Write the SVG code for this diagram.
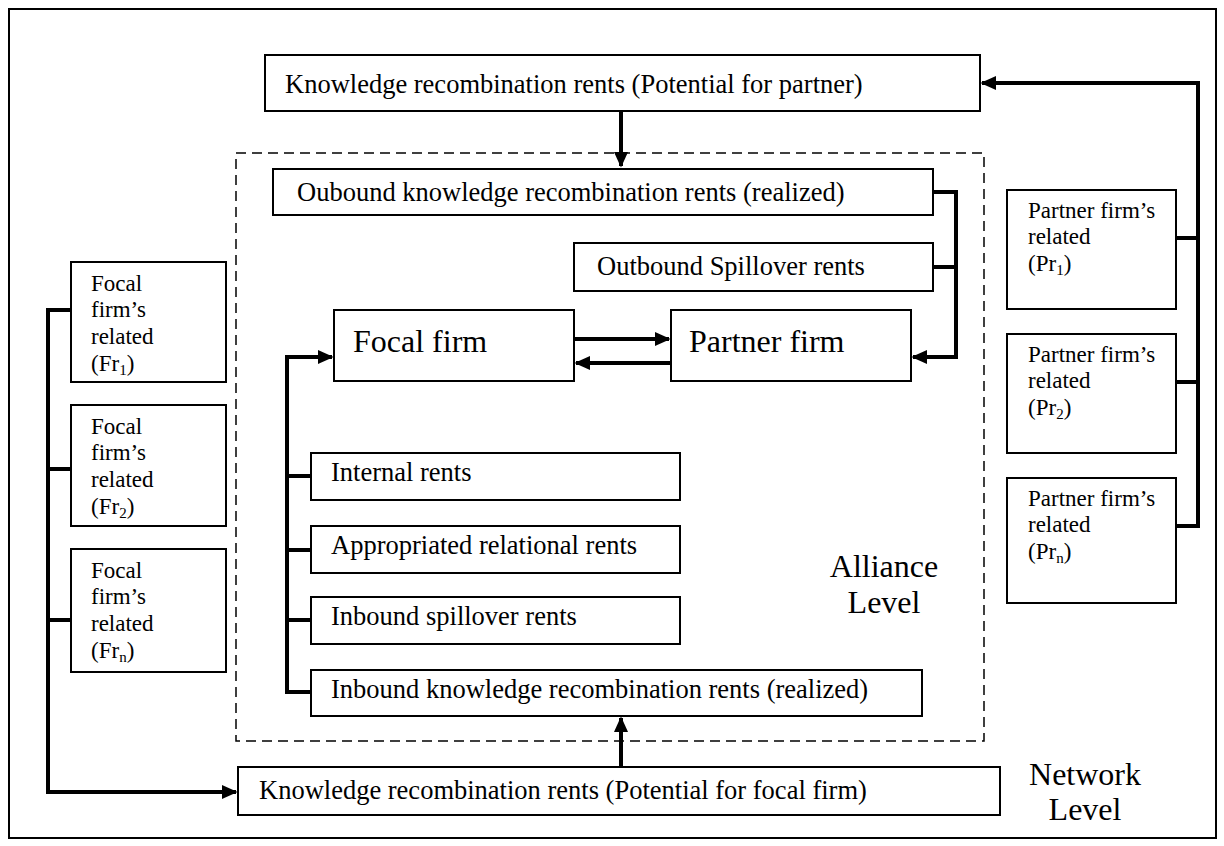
<svg xmlns="http://www.w3.org/2000/svg" width="1224" height="846" viewBox="0 0 1224 846">
<style>
.box{fill:#fff;stroke:#000;stroke-width:2}
.t{font-family:"Liberation Serif","Times New Roman",serif;font-size:26.5px;fill:#000}
.s{font-family:"Liberation Serif","Times New Roman",serif;font-size:23px;fill:#000}
.big{font-family:"Liberation Serif","Times New Roman",serif;font-size:32px;fill:#000}
.c{fill:none;stroke:#000;stroke-width:4}
.sub{font-size:15px}
</style>
<defs>
<marker id="ah" markerWidth="4" markerHeight="4" refX="3.6" refY="2" orient="auto" markerUnits="strokeWidth">
<path d="M0,0.2 L4,2 L0,3.8 z" fill="#000"/>
</marker>
</defs>
<rect x="9" y="9" width="1207" height="829" fill="#fff" stroke="#000" stroke-width="2"/>
<rect id="alliance-frame" x="236" y="153" width="748" height="588" fill="none" stroke="#000" stroke-width="1.5" stroke-dasharray="10,6"/>

<g id="connectors">
<path class="c" d="M621,111 V166" marker-end="url(#ah)"/>
<path class="c" d="M933,192 H956 V357 H913" marker-end="url(#ah)"/>
<path class="c" d="M933,267 H956"/>
<path class="c" d="M574,339 H669" marker-end="url(#ah)"/>
<path class="c" d="M671,363 H576" marker-end="url(#ah)"/>
<path class="c" d="M311,692 H287 V357 H332" marker-end="url(#ah)"/>
<path class="c" d="M287,476 H311 M287,550 H311 M287,620 H311"/>
<path class="c" d="M621,767 V718" marker-end="url(#ah)"/>
<path class="c" d="M71,310 H48 V792 H236" marker-end="url(#ah)"/>
<path class="c" d="M48,469 H71 M48,620 H71"/>
<path class="c" d="M1176,526 H1198 V83 H982" marker-end="url(#ah)"/>
<path class="c" d="M1176,238 H1198 M1176,382 H1198"/>
</g>

<g id="kr-partner"><rect class="box" x="265" y="55" width="715" height="56"/><text class="t" x="285" y="93">Knowledge recombination rents (Potential for partner)</text></g>
<g id="outbound-kr"><rect class="box" x="273" y="169" width="660" height="46"/><text class="t" x="297" y="201">Oubound knowledge recombination rents (realized)</text></g>
<g id="outbound-spill"><rect class="box" x="574" y="243" width="359" height="48"/><text class="t" x="597" y="275">Outbound Spillover rents</text></g>
<g id="focal"><rect class="box" x="334" y="310" width="240" height="71"/><text class="big" x="353" y="352">Focal firm</text></g>
<g id="partner"><rect class="box" x="671" y="310" width="240" height="71"/><text class="big" x="689" y="352">Partner firm</text></g>
<g id="internal"><rect class="box" x="311" y="453" width="369" height="47"/><text class="t" x="331" y="481">Internal rents</text></g>
<g id="appropriated"><rect class="box" x="311" y="526" width="369" height="47"/><text class="t" x="331" y="554">Appropriated relational rents</text></g>
<g id="inbound-spill"><rect class="box" x="311" y="597" width="369" height="47"/><text class="t" x="331" y="625">Inbound spillover rents</text></g>
<g id="inbound-kr"><rect class="box" x="311" y="670" width="611" height="46"/><text class="t" x="331" y="698">Inbound knowledge recombination rents (realized)</text></g>
<g id="kr-focal"><rect class="box" x="238" y="767" width="762" height="48"/><text class="t" x="259" y="799">Knowledge recombination rents (Potential for focal firm)</text></g>

<g id="fr1"><rect class="box" x="71" y="262" width="155" height="120"/><text class="s"><tspan x="91" y="291">Focal</tspan><tspan x="91" y="317">firm’s</tspan><tspan x="91" y="344">related</tspan><tspan x="91" y="371">(Fr<tspan class="sub" dy="4">1</tspan><tspan dy="-4">)</tspan></tspan></text></g>
<g id="fr2"><rect class="box" x="71" y="405" width="155" height="121"/><text class="s"><tspan x="91" y="434">Focal</tspan><tspan x="91" y="460">firm’s</tspan><tspan x="91" y="487">related</tspan><tspan x="91" y="514">(Fr<tspan class="sub" dy="4">2</tspan><tspan dy="-4">)</tspan></tspan></text></g>
<g id="frn"><rect class="box" x="71" y="549" width="155" height="123"/><text class="s"><tspan x="91" y="578">Focal</tspan><tspan x="91" y="604">firm’s</tspan><tspan x="91" y="631">related</tspan><tspan x="91" y="658">(Fr<tspan class="sub" dy="4">n</tspan><tspan dy="-4">)</tspan></tspan></text></g>

<g id="pr1"><rect class="box" x="1007" y="190" width="169" height="119"/><text class="s"><tspan x="1028" y="218">Partner firm’s</tspan><tspan x="1028" y="244">related</tspan><tspan x="1028" y="271">(Pr<tspan class="sub" dy="4">1</tspan><tspan dy="-4">)</tspan></tspan></text></g>
<g id="pr2"><rect class="box" x="1007" y="334" width="169" height="119"/><text class="s"><tspan x="1028" y="362">Partner firm’s</tspan><tspan x="1028" y="388">related</tspan><tspan x="1028" y="415">(Pr<tspan class="sub" dy="4">2</tspan><tspan dy="-4">)</tspan></tspan></text></g>
<g id="prn"><rect class="box" x="1007" y="478" width="169" height="125"/><text class="s"><tspan x="1028" y="506">Partner firm’s</tspan><tspan x="1028" y="532">related</tspan><tspan x="1028" y="559">(Pr<tspan class="sub" dy="4">n</tspan><tspan dy="-4">)</tspan></tspan></text></g>

<g id="alliance-label"><text class="big" text-anchor="middle"><tspan x="884" y="577">Alliance</tspan><tspan x="884" y="613">Level</tspan></text></g>
<g id="network-label"><text class="big" text-anchor="middle"><tspan x="1085" y="785">Network</tspan><tspan x="1085" y="820">Level</tspan></text></g>
</svg>
